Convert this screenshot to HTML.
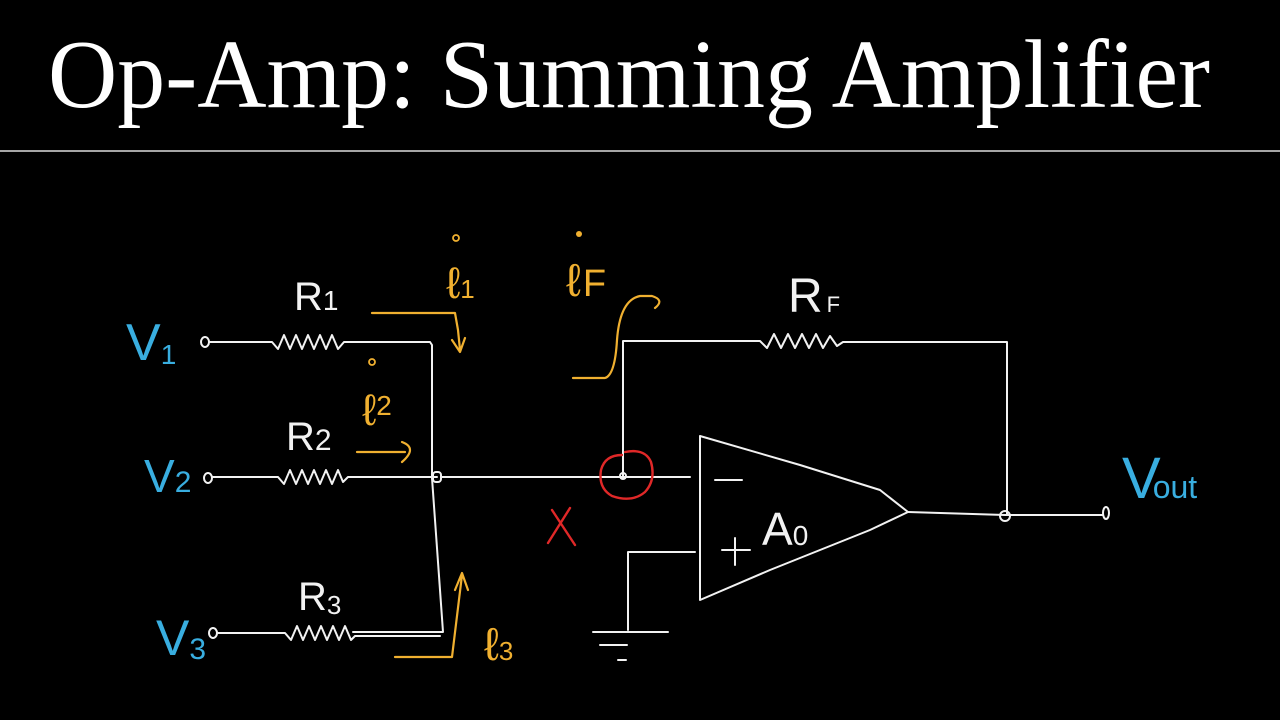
<!DOCTYPE html>
<html><head><meta charset="utf-8"><style>
html,body{margin:0;padding:0;background:#000;}
svg{display:block}
</style></head><body>
<svg width="1280" height="720" viewBox="0 0 1280 720" xmlns="http://www.w3.org/2000/svg">
<rect width="1280" height="720" fill="#000"/>
<text x="48" y="107" font-family="Liberation Serif, serif" font-size="98" fill="#fff" textLength="1162" lengthAdjust="spacingAndGlyphs">Op-Amp: Summing Amplifier</text>
<line x1="0" y1="151" x2="1280" y2="151" stroke="#ddd" stroke-width="1.5"/>

<g fill="none" stroke="#f2f2f2" stroke-width="2" stroke-linecap="round" stroke-linejoin="round">
  <!-- V1 branch -->
  <ellipse cx="205" cy="342" rx="4" ry="5"/>
  <path d="M209 342 H272 l6 7 l6 -14 l6 14 l6 -14 l6 14 l6 -14 l6 14 l6 -14 l6 14 l6 -14 l6 14 l6 -7 H430 L432 345 V478 L443 632 H353"/>
  <!-- V2 -->
  <ellipse cx="208" cy="478" rx="4" ry="5"/>
  <path d="M212 477 H278 l6 7 l6 -14 l6 14 l6 -14 l6 14 l6 -14 l6 14 l6 -14 l6 14 l6 -14 l5 12 l5 -5 H437"/>
  <!-- V3 -->
  <ellipse cx="213" cy="633" rx="4" ry="5"/>
  <path d="M217 633 H285 l6 7 l6 -14 l6 14 l6 -14 l6 14 l6 -14 l6 14 l6 -14 l6 14 l6 -14 l6 14 l4 -4 H440"/>
  <!-- junction -->
  <rect x="433" y="472" width="8" height="10" rx="3"/>
  <path d="M441 477 H690"/>
  <!-- feedback -->
  <path d="M623 476 V341 H760 l7 7 l7 -14 l7 14 l7 -14 l7 14 l7 -14 l7 14 l7 -14 l7 14 l7 -12 l7 10 l6 -4 H1007 V515"/>
  <circle cx="623" cy="476" r="3"/>
  <!-- opamp -->
  <path d="M700 436 L700 600 L770 570 L870 530 L908 512 L880 490 L800 465 Z"/>
  <path d="M908 512 L1005 515 H1103"/>
  <ellipse cx="1005" cy="516" rx="5" ry="5"/>
  <ellipse cx="1106" cy="513" rx="3" ry="6"/>
  <!-- + input & ground -->
  <path d="M695 552 H628 V630 M593 632 H668 M600 645 H627 M618 660 H626"/>
  <path d="M715 480 H742 M722 550 H750 M735 538 V565"/>
</g>

<g fill="#f2f2f2" font-family="Liberation Sans, sans-serif">
  <text x="294" y="310" font-size="40">R<tspan font-size="28">1</tspan></text>
  <text x="286" y="450" font-size="40">R<tspan font-size="30">2</tspan></text>
  <text x="298" y="610" font-size="40">R<tspan font-size="26" dy="4">3</tspan></text>
  <text x="788" y="312" font-size="48">R<tspan font-size="22" dx="4">F</tspan></text>
  <text x="762" y="545" font-size="46">A<tspan font-size="28">0</tspan></text>
</g>

<g fill="#39aee0" font-family="Liberation Sans, sans-serif">
  <text x="126" y="360" font-size="52">V<tspan font-size="28" dy="4">1</tspan></text>
  <text x="144" y="492" font-size="46">V<tspan font-size="30" dy="0">2</tspan></text>
  <text x="156" y="655" font-size="50">V<tspan font-size="30" dy="4">3</tspan></text>
  <text x="1122" y="498" font-size="58">V<tspan font-size="32" dx="-8">out</tspan></text>
</g>

<g fill="none" stroke="#f0b030" stroke-width="2.2" stroke-linecap="round" stroke-linejoin="round">
  <path d="M372 313 H455 L458 330 L460 350 M452 340 L460 352 L465 338"/>
  <path d="M357 452 H405 M402 442 Q418 448 402 462"/>
  <path d="M395 657 H452 L462 575 M455 590 L462 573 L468 590"/>
  <path d="M573 378 H605 Q615 375 617 340 Q620 300 640 296 H652 Q665 300 655 308"/>
</g>
<g fill="#f0b030" font-family="Liberation Sans, sans-serif">
  <text x="446" y="298" font-size="44">ℓ<tspan font-size="26">1</tspan></text>
  <circle cx="456" cy="238" r="3" fill="none" stroke="#f0b030" stroke-width="1.8"/>
  <text x="362" y="425" font-size="44">ℓ<tspan font-size="28" dy="-10">2</tspan></text>
  <circle cx="372" cy="362" r="3" fill="none" stroke="#f0b030" stroke-width="1.8"/>
  <text x="484" y="660" font-size="46">ℓ<tspan font-size="26">3</tspan></text>
  <text x="566" y="296" font-size="46">ℓ<tspan font-size="38" dx="2">F</tspan></text>
  <circle cx="579" cy="234" r="3"/>
</g>

<g fill="none" stroke="#e02828" stroke-width="2.4" stroke-linecap="round">
  <path d="M625 452 Q645 448 651 462 Q656 480 645 492 Q632 503 612 496 Q598 488 601 470 Q605 455 622 455"/>
  <path d="M552 510 L575 545 M570 508 L548 543"/>
</g>
</svg>
</body></html>
